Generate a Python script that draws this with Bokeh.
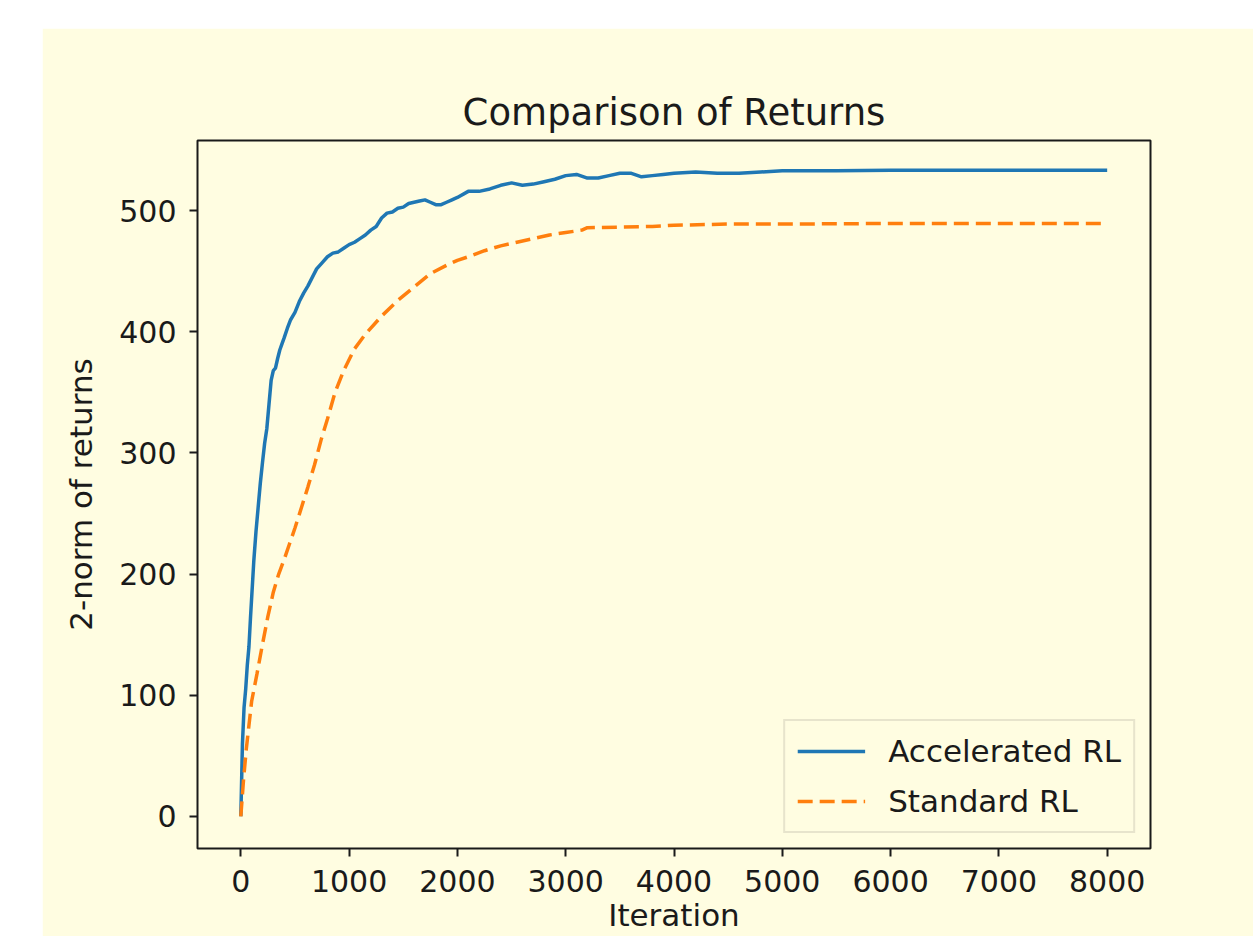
from bokeh.plotting import figure
from bokeh.models import Range1d, FixedTicker
from bokeh.embed import file_html
from bokeh.resources import INLINE

# ---- data ----
acc_x = [0, 15, 30, 45, 60, 75, 90, 105, 120, 140, 160, 180, 200, 220, 240, 260, 280, 300,
         320, 340, 360, 380, 400, 430, 460, 500, 540, 580, 620, 660, 700, 750, 800, 850,
         900, 950, 1000, 1050, 1100, 1150, 1200, 1250, 1300, 1350, 1400, 1450, 1500, 1550,
         1600, 1650, 1700, 1750, 1800, 1850, 1900, 1950, 2000, 2100, 2200, 2300, 2400,
         2500, 2600, 2700, 2800, 2900, 3000, 3100, 3200, 3300, 3400, 3500, 3600, 3700,
         3800, 3900, 4000, 4200, 4400, 4600, 4800, 5000, 5200, 5500, 6000, 7000, 8000]
acc_y = [0, 60, 90, 105, 125, 140, 165, 188, 211, 235, 255, 275, 292, 308, 320, 340, 360, 368,
         370, 378, 385, 390, 395, 403, 410, 416, 425, 432, 438, 445, 452, 457, 462, 465,
         466, 469, 472, 474, 477, 480, 484, 487, 494, 498, 499, 502, 503, 506,
         507, 508, 509, 507, 505, 505, 507, 509, 511, 516, 516, 518, 521,
         523, 521, 522, 524, 526, 529, 530, 527, 527, 529, 531, 531, 528,
         529, 530, 531, 532, 531, 531, 532, 533, 533, 533, 533.5, 533.5, 533.5]

std_x = [0, 25, 50, 100, 150, 200, 250, 300, 350, 400, 450, 500, 560, 620, 680, 745, 800,
         870, 950, 1050, 1150, 1300, 1450, 1600, 1750, 1900, 2000, 2100, 2250, 2400, 2550,
         2700, 2850, 3000, 3150, 3200, 3500, 3800, 4000, 4500, 5000, 6000, 8000]
std_y = [0, 30, 55, 95, 118, 142, 165, 185, 200, 212, 225, 238, 255, 272, 290, 312, 328,
         350, 368, 386, 398, 413, 426, 437, 448, 455, 459, 462, 467, 471, 474,
         477, 480, 482, 484, 486, 486.5, 487, 488, 489, 489, 489.5, 489.5]

x_ticks = [0, 1000, 2000, 3000, 4000, 5000, 6000, 7000, 8000]
y_ticks = [0, 100, 200, 300, 400, 500]

title_text = "Comparison of Returns"
x_label = "Iteration"
y_label = "2-norm of returns"
series_names = ["Accelerated RL", "Standard RL"]

BG = "#FFFDE1"
INK = "#1a1a1a"
FONT = "DejaVu Sans"

p = figure(width=1211, height=908, output_backend="svg", toolbar_location=None,
           x_range=Range1d(-400, 8400), y_range=Range1d(-26.6, 558),
           min_border_left=155, min_border_right=103, min_border_top=112,
           min_border_bottom=88, margin=(28, 0, 0, 42))

p.background_fill_color = BG
p.border_fill_color = BG
p.outline_line_color = INK
p.outline_line_width = 2
p.xgrid.visible = False
p.ygrid.visible = False

p.title.text = title_text
p.title.align = "center"
p.title.text_font = FONT
p.title.text_font_size = "37px"
p.title.text_font_style = "normal"
p.title.text_color = INK
p.title.standoff = 14

for ax in (p.xaxis[0], p.yaxis[0]):
    ax.axis_line_color = None
    ax.major_tick_line_color = INK
    ax.major_tick_line_width = 2
    ax.major_tick_out = 8
    ax.major_tick_in = 0
    ax.minor_tick_line_color = None
    ax.major_label_text_font = FONT
    ax.major_label_text_font_size = "30px"
    ax.major_label_text_color = INK
    ax.axis_label_text_font = FONT
    ax.axis_label_text_font_size = "31px"
    ax.axis_label_text_font_style = "normal"
    ax.axis_label_text_color = INK

p.xaxis.ticker = FixedTicker(ticks=x_ticks)
p.yaxis.ticker = FixedTicker(ticks=y_ticks)
p.xaxis.major_label_standoff = 13
p.yaxis.major_label_standoff = 13
p.xaxis.axis_label = x_label
p.xaxis.axis_label_standoff = 2
p.yaxis.axis_label = y_label
p.yaxis.axis_label_standoff = 17

p.line(acc_x, acc_y, line_color="#1f77b4", line_width=3.5, legend_label=series_names[0])
p.line(std_x, std_y, line_color="#ff7f0e", line_width=3.5, line_dash="15 7",
       legend_label=series_names[1])

lg = p.legend[0]
lg.location = "bottom_right"
lg.margin = 15
lg.label_text_font = FONT
lg.label_text_font_size = "31px"
lg.label_text_color = INK
lg.glyph_width = 68
lg.glyph_height = 36
lg.label_standoff = 23
lg.padding = 12
lg.spacing = 14
lg.border_line_color = "#cfcbb8"
lg.border_line_width = 2
lg.background_fill_color = BG
lg.background_fill_alpha = 0.8

open("out.html", "w").write(file_html(p, INLINE))
